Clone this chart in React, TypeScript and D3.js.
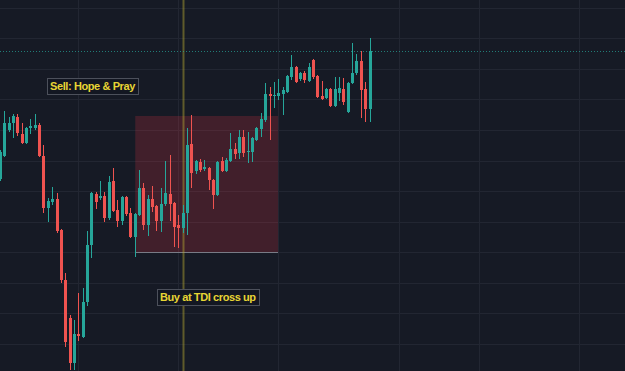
import React, { useEffect, useRef } from "react";
import * as d3 from "d3";

// candle prices, one entry per bar (oldest first)
const opens = [221, 244, 270, 277, 283, 266, 257, 272, 272, 275, 244, 192, 198, 201, 170, 120, 82, 37, 66, 63, 98, 155, 206, 202, 204, 182, 219, 190, 179, 203, 187, 163, 185, 212, 175, 201, 194, 179, 196, 206, 197, 175, 172, 187, 256, 229, 238, 231, 232, 220, 205, 239, 229, 239, 251, 247, 263, 248, 248, 260, 271, 280, 306, 304, 304, 306, 308, 323, 333, 321, 327, 319, 340, 324, 304, 302, 311, 294, 307, 311, 288, 317, 327, 339, 311, 291];
const highs = [250, 289, 283, 286, 286, 277, 273, 281, 286, 277, 255, 202, 213, 207, 171, 127, 85, 80, 107, 112, 169, 208, 208, 219, 208, 224, 232, 200, 204, 204, 192, 187, 230, 217, 205, 214, 195, 212, 239, 245, 198, 185, 195, 272, 285, 240, 241, 240, 233, 221, 239, 243, 242, 267, 257, 270, 270, 268, 263, 273, 287, 317, 313, 318, 321, 313, 325, 345, 334, 328, 329, 337, 341, 325, 319, 312, 312, 323, 323, 322, 318, 357, 346, 349, 318, 362];
const lows = [219, 243, 268, 262, 264, 256, 256, 266, 270, 243, 187, 178, 195, 167, 117, 53, 30, 30, 59, 62, 94, 142, 191, 200, 178, 180, 188, 173, 175, 184, 162, 143, 184, 170, 164, 188, 169, 168, 194, 179, 153, 152, 167, 165, 212, 226, 228, 229, 210, 191, 204, 228, 228, 238, 241, 241, 243, 237, 238, 259, 263, 278, 260, 292, 300, 285, 307, 320, 317, 319, 317, 318, 321, 302, 300, 301, 293, 293, 299, 295, 287, 316, 325, 282, 278, 278];
const closes = [248, 277, 277, 284, 267, 257, 272, 274, 275, 244, 192, 199, 201, 169, 120, 58, 37, 66, 64, 98, 155, 207, 198, 204, 182, 218, 189, 179, 203, 186, 163, 186, 212, 175, 201, 193, 179, 196, 207, 196, 173, 172, 187, 255, 227, 239, 230, 233, 220, 205, 238, 229, 240, 251, 246, 263, 247, 249, 262, 272, 281, 306, 304, 305, 307, 310, 324, 333, 318, 327, 320, 333, 323, 303, 301, 311, 294, 311, 312, 298, 317, 327, 339, 310, 291, 349];

const priceGrid = [56.5, 87, 117.5, 148, 178.5, 209, 239.5, 270, 300.5, 331, 361.5, 392];
const timeGrid = [17.94, 41.06, 63.84, 91.9, 110.08, 133.2];

// drawings on the chart
const markerBar = 42;
const zoneBars = [31, 63.85];
const zonePrices = [284, 148];
const noteTexts = ["Sell: Hope & Pray", "Buy at TDI cross up"];
const noteBars = [10.7, 36.0];
const notePrices = [314, 103];

const width = 625;
const height = 371;
const up = "#26a69a";
const down = "#ef5350";

function CandleChart() {
    const ref = useRef<SVGSVGElement>(null);

    useEffect(() => {
        document.body.style.margin = "0";
        const svg = d3.select(ref.current);
        svg.selectAll("*").remove();

        const x = d3.scaleLinear().domain([0, 85]).range([0.5, 370]);
        const y = d3.scaleLinear().domain([29, 400]).range([height, 0]);
        const px = (i: number) => Math.floor(x(i)) + 0.5;

        svg.append("rect").attr("width", width).attr("height", height).attr("fill", "#161a25");

        // grid
        svg.append("g")
            .selectAll("line")
            .data(priceGrid)
            .join("line")
            .attr("x1", 0)
            .attr("x2", width)
            .attr("y1", (d) => Math.round(y(d)) + 0.5)
            .attr("y2", (d) => Math.round(y(d)) + 0.5)
            .attr("stroke", "#222632");
        svg.append("g")
            .selectAll("line")
            .data(timeGrid)
            .join("line")
            .attr("x1", (d) => px(d))
            .attr("x2", (d) => px(d))
            .attr("y1", 0)
            .attr("y2", height)
            .attr("stroke", "#222632");

        // zone rectangle
        svg.append("rect")
            .attr("x", x(zoneBars[0]))
            .attr("y", y(zonePrices[0]))
            .attr("width", x(zoneBars[1]) - x(zoneBars[0]))
            .attr("height", y(zonePrices[1]) - y(zonePrices[0]))
            .attr("fill", "rgba(242, 54, 69, 0.2)");
        svg.append("line")
            .attr("x1", x(zoneBars[0]))
            .attr("x2", x(zoneBars[1]))
            .attr("y1", Math.round(y(zonePrices[1])) + 0.5)
            .attr("y2", Math.round(y(zonePrices[1])) + 0.5)
            .attr("stroke", "#787b86");

        // vertical marker
        svg.append("line")
            .attr("x1", px(markerBar))
            .attr("x2", px(markerBar))
            .attr("y1", 0)
            .attr("y2", height)
            .attr("stroke", "rgba(185, 170, 50, 0.45)")
            .attr("stroke-width", 2);

        // last price line
        svg.append("line")
            .attr("x1", 0)
            .attr("x2", width)
            .attr("y1", Math.round(y(closes[closes.length - 1])) + 0.5)
            .attr("y2", Math.round(y(closes[closes.length - 1])) + 0.5)
            .attr("stroke", up)
            .attr("stroke-opacity", 0.7)
            .attr("stroke-dasharray", "1 2");

        // candles
        const candles = svg.append("g")
            .selectAll("g")
            .data(d3.range(opens.length))
            .join("g")
            .attr("fill", (i) => (closes[i] >= opens[i] ? up : down))
            .attr("stroke", (i) => (closes[i] >= opens[i] ? up : down));

        candles.append("line")
            .attr("x1", (i) => px(i))
            .attr("x2", (i) => px(i))
            .attr("y1", (i) => y(highs[i]))
            .attr("y2", (i) => y(lows[i]));

        candles.append("rect")
            .attr("stroke", "none")
            .attr("x", (i) => px(i) - 1.5)
            .attr("width", 3)
            .attr("y", (i) => y(Math.max(opens[i], closes[i])))
            .attr("height", (i) => Math.max(1, Math.abs(y(opens[i]) - y(closes[i]))));

        // notes
        noteTexts.forEach((t, k) => {
            const g = svg.append("g");
            const box = g.append("rect")
                .attr("fill", "#131722")
                .attr("stroke", "#4c505b");
            const label = g.append("text")
                .attr("x", x(noteBars[k]) + 3)
                .attr("y", y(notePrices[k]))
                .attr("dy", "0.36em")
                .attr("fill", "#e8d534")
                .attr("font-family", "'Liberation Sans', Arial, sans-serif")
                .attr("font-weight", "bold")
                .attr("font-size", 11)
                .attr("letter-spacing", -0.4)
                .text(t);
            const w = (label.node() as SVGTextElement).getComputedTextLength();
            box.attr("x", Math.round(x(noteBars[k])) + 0.5)
                .attr("y", Math.round(y(notePrices[k])) - 7.5)
                .attr("width", Math.round(w) + 6)
                .attr("height", 16);
        });
    }, []);

    return <svg ref={ref} width={width} height={height} style={{ display: "block" }} />;
}

export default function App() {
    return <CandleChart />;
}
